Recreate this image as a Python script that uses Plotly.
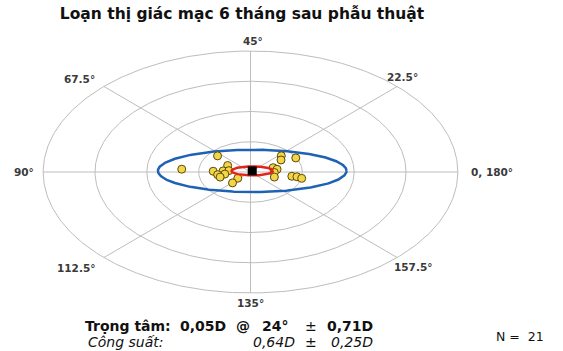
import numpy as np
import plotly.graph_objects as go

# ---- data (astigmatism vectors, double-angle plot) ----
axis_deg = [88, 70, 77, 89, 88, 87, 94, 94, 98, 110, 113,
            21, 17, 14, 9, 5, 179, 170, 175, 175, 174]
magnitude_D = [1.33, 0.83, 0.49, 0.72, 0.53, 0.42, 0.64, 0.50, 0.61, 0.32, 0.50,
               0.80, 0.71, 0.99, 0.46, 0.52, 0.46, 0.49, 0.81, 0.91, 1.01]
centroid_mag = [0.05]
centroid_axis = [24]
ellipse_data_semi = [1.82, 0.70]   # 95% ellipse of the data (x, y semi-axes, D)
ellipse_mean_semi = [0.40, 0.15]   # 95% ellipse of the mean
ring_D = [1, 2, 3, 4]
spoke_plot_deg = [0, 45, 90, 135, 180, 225, 270, 315]
angle_labels = ["0, 180°", "22.5°", "45°", "67.5°", "90°", "112.5°", "135°", "157.5°"]

R = 4.0
RANGE = 4.1
FONT = "DejaVu Sans"

def to_xy(mag, ax):
    mag = np.asarray(mag, float)
    a = np.radians(2 * np.asarray(ax, float))
    return mag * np.cos(a), mag * np.sin(a)

fig = go.Figure()
grid_col = "#bdbdbd"
t = np.linspace(0, 2 * np.pi, 361)

# rings
gx, gy = [], []
for r in ring_D:
    gx += list(r * np.cos(t)) + [None]
    gy += list(r * np.sin(t)) + [None]
# spokes
for d in spoke_plot_deg:
    a = np.radians(d)
    gx += [0, R * np.cos(a), None]
    gy += [0, R * np.sin(a), None]
fig.add_trace(go.Scatter(x=gx, y=gy, mode="lines",
                         line=dict(color=grid_col, width=1), hoverinfo="skip"))

cx, cy = to_xy(centroid_mag, centroid_axis)

# 95% ellipse of data
fig.add_trace(go.Scatter(x=cx[0] + ellipse_data_semi[0] * np.cos(t),
                         y=cy[0] + ellipse_data_semi[1] * np.sin(t),
                         mode="lines", line=dict(color="#1f62b4", width=2.5),
                         hoverinfo="skip"))

# points
px, py = to_xy(magnitude_D, axis_deg)
fig.add_trace(go.Scatter(x=px, y=py, mode="markers",
                         marker=dict(size=8, color="#f3d54a",
                                     line=dict(color="#5a4a08", width=1))))

# ellipse of mean
fig.add_trace(go.Scatter(x=cx[0] + ellipse_mean_semi[0] * np.cos(t),
                         y=cy[0] + ellipse_mean_semi[1] * np.sin(t),
                         mode="lines", line=dict(color="#e3241b", width=2.5),
                         hoverinfo="skip"))

# centroid
fig.add_trace(go.Scatter(x=cx, y=cy, mode="markers",
                         marker=dict(symbol="square", size=9, color="black")))

L, Rm, T, B = 38, 100, 48, 55
W, H = 563, 351
pw, ph = W - L - Rm, H - T - B

def paper(pxl, pyl):
    return (pxl - L) / pw, (H - B - pyl) / ph

label_pix = [(492.5, 172), (402, 77), (253, 41), (79, 79),
             (23.5, 172), (76, 268), (250, 303), (413, 267)]
ann = []
for txt, (lx, ly) in zip(angle_labels, label_pix):
    xp, yp = paper(lx, ly)
    ann.append(dict(x=xp, y=yp, xref="paper", yref="paper", text="<b>" + txt + "</b>",
                    showarrow=False, xanchor="center", yanchor="middle",
                    font=dict(family=FONT, size=10.5, color="#3a3a3a")))

def add_text(txt, lx, ly, anchor, size=14, bold=True, italic=False):
    xp, yp = paper(lx, ly)
    s = txt
    if bold:
        s = "<b>" + s + "</b>"
    if italic:
        s = "<i>" + s + "</i>"
    ann.append(dict(x=xp, y=yp, xref="paper", yref="paper", text=s,
                    showarrow=False, xanchor=anchor, yanchor="middle",
                    font=dict(family=FONT, size=size, color="#111111")))

y1, y2 = 326, 341.5
add_text("Trọng tâm:", 83, y1, "left")
add_text("0,05D", 228, y1, "right")
add_text("@", 243, y1, "center")
add_text("24°", 275, y1, "center")
add_text("±", 311, y1, "center", bold=False)
add_text("0,71D", 375, y1, "right")
add_text("Công suất:", 86, y2, "left", size=14, bold=False, italic=True)
add_text("0,64D", 297, y2, "right", size=14, bold=False, italic=True)
add_text("±", 311, y2, "center", size=14, bold=False)
add_text("0,25D", 375, y2, "right", size=14, bold=False, italic=True)
add_text("N\u00a0=\u00a0\u00a021", 494, 336.5, "left", size=12.5, bold=False)

fig.update_layout(
    width=W, height=H, margin=dict(l=L, r=Rm, t=T, b=B),
    paper_bgcolor="white", plot_bgcolor="white", showlegend=False,
    title=dict(text="<b>Loạn thị giác mạc 6 tháng sau phẫu thuật</b>",
               x=242 / W, xanchor="center", y=1 - 13.5 / H, yanchor="middle",
               font=dict(family=FONT, size=15.5, color="#111111")),
    xaxis=dict(range=[-RANGE, RANGE], visible=False, fixedrange=True),
    yaxis=dict(range=[-RANGE, RANGE], visible=False, fixedrange=True),
    annotations=ann,
)
fig.write_html("out.html")
